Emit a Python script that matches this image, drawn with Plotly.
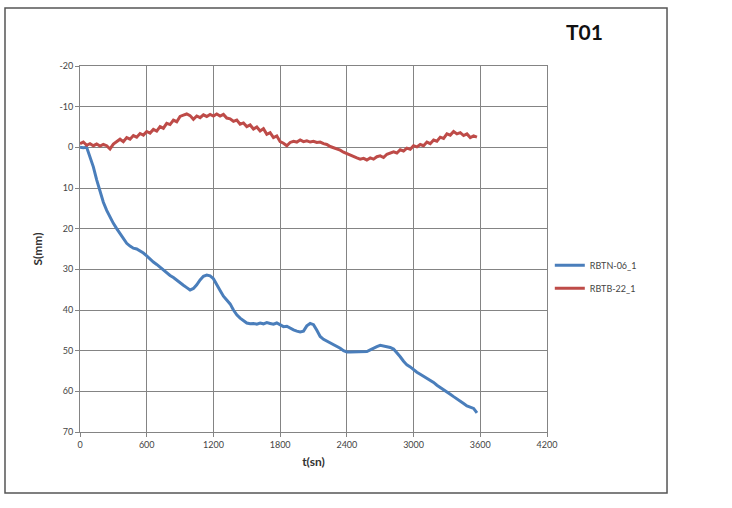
import plotly.graph_objects as go

t_blue = list(range(0, 3571, 30))
s_blue = [0, 0.1, 0, 2.5, 4.8, 8.0, 10.8, 13.5, 15.5, 17.2, 18.7, 20.0, 21.3, 22.5, 23.6, 24.3,
          24.8, 25.0, 25.4, 26.0, 26.7, 27.5, 28.2, 28.8, 29.5, 30.2, 30.8, 31.5, 32.0, 32.7,
          33.3, 33.9, 34.5, 35.1, 34.7, 33.8, 32.6, 31.7, 31.4, 31.6, 32.3, 33.6, 35.2, 36.6,
          37.6, 38.5, 40.0, 41.2, 42.0, 42.7, 43.2, 43.4, 43.3, 43.5, 43.2, 43.4, 43.1, 43.3,
          43.5, 43.2, 43.6, 44.1, 44.0, 44.5, 44.9, 45.2, 45.4, 45.2, 43.9, 43.3, 43.6, 45.0,
          46.5, 47.2, 47.6, 48.0, 48.6, 49.0, 49.4, 50.0, 50.3, 50.3, 50.3, 50.2, 50.3, 50.3,
          50.2, 49.8, 49.3, 49.0, 48.7, 48.9, 49.1, 49.2, 49.6, 50.5, 51.5, 52.6, 53.5, 54.0,
          54.7, 55.3, 55.8, 56.3, 56.8, 57.2, 57.8, 58.5, 59.0, 59.6, 60.1, 60.7, 61.3, 61.8,
          62.4, 63.0, 63.6, 64.0, 64.2, 65.3]

t_red = list(range(0, 3571, 30))
s_red = [-0.9, -1.3, -0.5, -0.9, -0.4, -0.8, -0.3, -0.7, -0.4, 0.4, -0.8, -1.5, -2.0, -1.4,
         -2.4, -2.0, -2.9, -2.5, -3.4, -3.0, -3.9, -3.5, -4.4, -4.0, -5.1, -4.7, -5.9, -5.6,
         -6.7, -6.3, -7.6, -7.9, -8.2, -7.8, -6.9, -7.7, -7.3, -8.0, -7.6, -8.1, -7.7, -8.2,
         -7.7, -8.1, -7.2, -7.0, -6.4, -6.7, -5.7, -6.0, -5.1, -5.5, -4.5, -5.0, -4.0, -4.6,
         -3.2, -3.6, -2.4, -2.8, -1.4, -1.0, -0.4, -1.2, -1.5, -1.3, -1.8, -1.4, -1.6, -1.3,
         -1.5, -1.2, -1.3, -0.9, -0.7, -0.2, 0.1, 0.4, 0.7, 1.2, 1.6, 1.9, 2.4, 2.6, 2.9, 2.7,
         3.1, 2.6, 2.9, 2.3, 2.1, 2.5, 1.7, 1.4, 1.1, 1.4, 0.6, 0.9, 0.2, 0.5, -0.4, -0.1,
         -0.7, -0.4, -1.3, -0.9, -1.8, -1.5, -2.5, -2.2, -3.3, -3.0, -3.9, -3.3, -3.6, -2.9,
         -3.3, -2.4, -2.8, -2.5]

x_ticks = [0, 600, 1200, 1800, 2400, 3000, 3600, 4200]
y_ticks = [-20, -10, 0, 10, 20, 30, 40, 50, 60, 70]

FONT = "Lato, Open Sans, sans-serif"

fig = go.Figure()
fig.add_trace(go.Scatter(x=t_blue, y=s_blue, mode="lines", name="RBTN-06_1",
                         line=dict(color="#4a7ebb", width=3), legendgroup="a"))
fig.add_trace(go.Scatter(x=t_red, y=s_red, mode="lines", name="RBTB-22_1",
                         line=dict(color="#be4b48", width=3), legendgroup="b"))

axis_common = dict(showgrid=True, gridcolor="#848484", gridwidth=1,
                   showline=True, linecolor="#848484", linewidth=1,
                   ticks="outside", ticklen=4, tickcolor="#848484",
                   tickfont=dict(family=FONT, size=9, color="#444"),
                   zeroline=False, mirror=True)

fig.update_xaxes(range=[0, 4200], tickvals=x_ticks, ticktext=[str(v) for v in x_ticks],
                 title=dict(text="<b>t(sn)</b>", font=dict(family=FONT, size=12, color="#333"),
                            standoff=8), **axis_common)
fig.update_yaxes(range=[70, -20], tickvals=y_ticks, ticktext=[str(v) for v in y_ticks],
                 title=dict(text="<b>S(mm)</b>", font=dict(family=FONT, size=12, color="#333"),
                            standoff=14), **axis_common)

fig.add_shape(type="rect", xref="paper", yref="paper", x0=-0.1606, x1=1.257, y0=-0.1667, y1=1.1585,
              line=dict(color="#555", width=1.5), fillcolor="rgba(0,0,0,0)")

fig.add_annotation(text="<b>T01</b>", xref="paper", yref="paper", x=1.081, y=1.093,
                   xanchor="center", yanchor="middle",
                   showarrow=False, font=dict(family=FONT, size=21, color="#111"))

fig.update_layout(
    width=732, height=508,
    margin=dict(l=80, r=185, t=66, b=76),
    paper_bgcolor="white", plot_bgcolor="white",
    legend=dict(x=1.006, y=0.495, xanchor="left", yanchor="top",
                font=dict(family=FONT, size=9, color="#444"),
                tracegroupgap=4, itemwidth=30, bgcolor="rgba(0,0,0,0)"),
    showlegend=True,
)

fig.write_html("out.html")
